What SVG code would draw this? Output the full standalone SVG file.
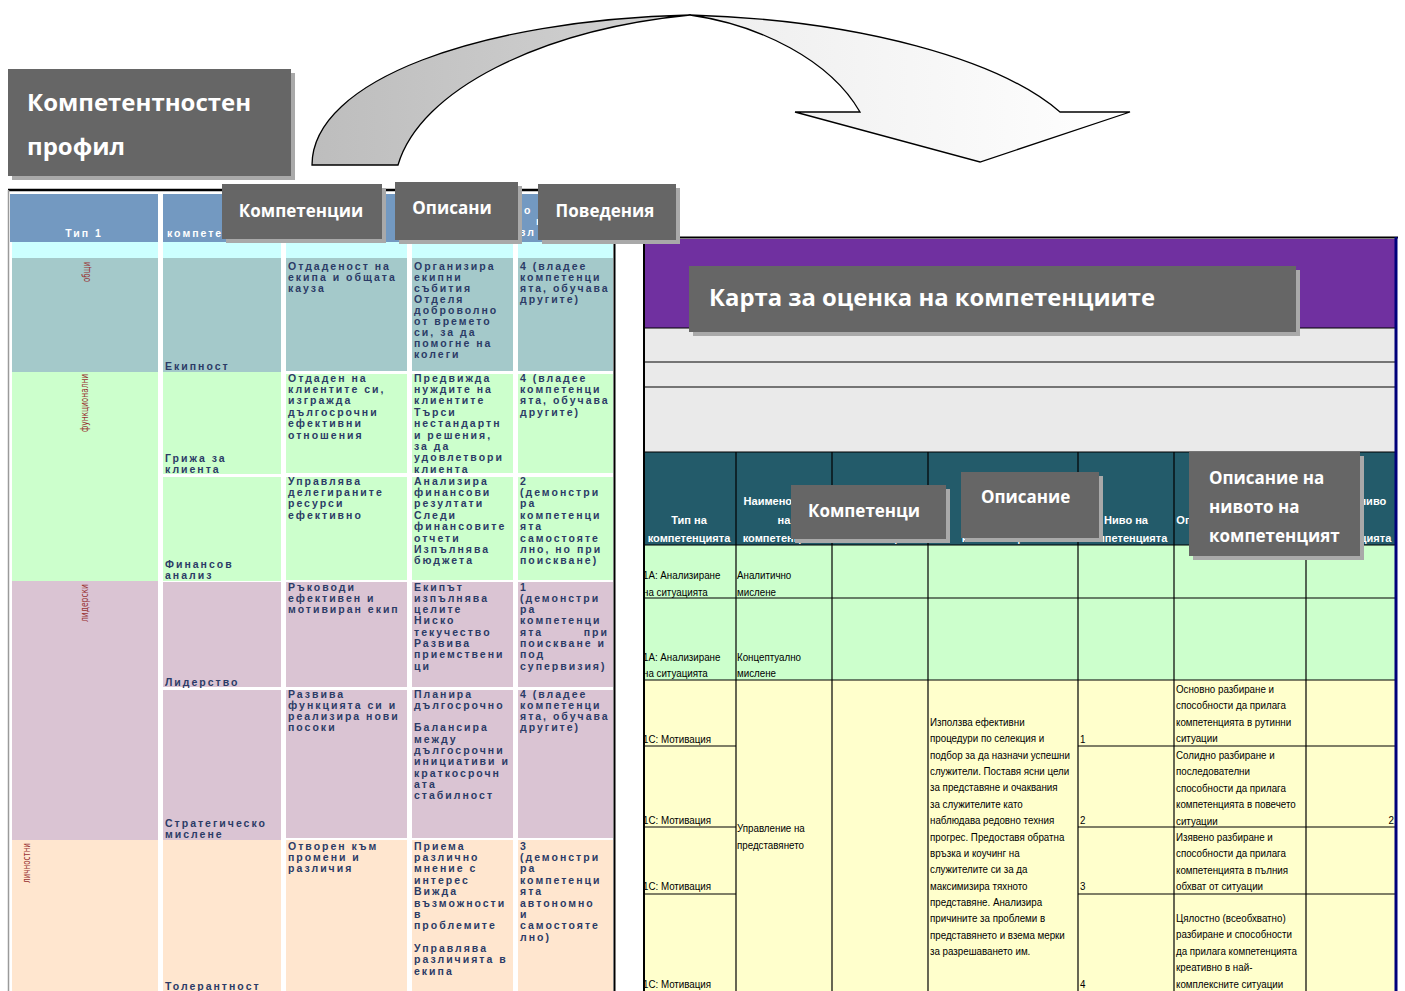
<svg xmlns="http://www.w3.org/2000/svg" width="1405" height="991" viewBox="0 0 1405 991">
<defs>
<linearGradient id="gBack" x1="310" y1="0" x2="700" y2="0" gradientUnits="userSpaceOnUse"><stop offset="0" stop-color="#BDBDBD"/><stop offset="1" stop-color="#D4D4D4"/></linearGradient>
<linearGradient id="gFront" x1="690" y1="0" x2="1130" y2="0" gradientUnits="userSpaceOnUse"><stop offset="0" stop-color="#EDEDED"/><stop offset="1" stop-color="#FFFFFF"/></linearGradient>
</defs>
<style>
.lt{font-family:"Liberation Sans",Arial,sans-serif;font-size:10.5px;font-weight:bold;letter-spacing:2px;fill:#2B3B66}
.lh{font-family:"Liberation Sans",Arial,sans-serif;font-size:10.5px;font-weight:bold;letter-spacing:2px;fill:#FFFFFF}
.vt{font-family:"DejaVu Sans Condensed","Liberation Sans",sans-serif;font-size:11px;fill:#993333}
.box{fill:#666666}
.sh{fill:#A9A9A9}
.co{font-family:"Open Sans","Liberation Sans",sans-serif;font-weight:bold;font-size:17px;fill:#FFFFFF}
.rt{font-family:"Liberation Sans",Arial,sans-serif;font-size:11.5px;fill:#000000}
.rh{font-family:"Liberation Sans",Arial,sans-serif;font-size:11.5px;font-weight:bold;fill:#FFFFFF}
.ln{stroke:#000000;stroke-width:1.2;fill:none}
.c-teal{fill:#A4C9CA}.c-green{fill:#CCFFCC}.c-lav{fill:#DAC4D3}.c-peach{fill:#FFE6CF}.c-head{fill:#7399C1}.c-cyan{fill:#CCFFFF}
</style>
<rect x="0" y="0" width="1405" height="991" fill="#FFFFFF"/>

<g id="connectors">
<path d="M 312 165 C 312 80 480 20 690 15 C 540 30 420 90 398 165 Z" fill="url(#gBack)" stroke="#000" stroke-width="1.3"/>
<path d="M 690 15 C 860 20 1000 60 1060 112 L 1130 112 L 980 162 L 795 112 L 860 112 C 830 60 760 25 690 15 Z" fill="url(#gFront)" stroke="#000" stroke-width="1.3"/>
</g>

<g id="title-profile">
<rect class="sh" x="12" y="73" width="283" height="107"/>
<rect class="box" x="8" y="69" width="283" height="107"/>
<text class="co" style="font-size:24px" x="27" y="111">Компетентностен</text>
<text class="co" style="font-size:24px" x="27" y="155">профил</text>
</g>

<g id="left-table">
<line x1="8" y1="190" x2="645" y2="190" stroke="#000" stroke-width="2.5"/>
<line x1="8.5" y1="190" x2="8.5" y2="991" stroke="#9A9A9A" stroke-width="1.5"/>
<line x1="614.5" y1="191" x2="614.5" y2="991" stroke="#000" stroke-width="2"/>
<rect class="c-head" x="10" y="194" width="148" height="48"/>
<rect class="c-head" x="163" y="194" width="118" height="48"/>
<rect class="c-head" x="286" y="194" width="121" height="48"/>
<rect class="c-head" x="412" y="194" width="101" height="48"/>
<rect class="c-head" x="518" y="194" width="95" height="48"/>
<rect class="c-cyan" x="12" y="242" width="146" height="16"/>
<rect class="c-cyan" x="163" y="242" width="118" height="16"/>
<rect class="c-cyan" x="286" y="242" width="121" height="16"/>
<rect class="c-cyan" x="412" y="242" width="101" height="16"/>
<rect class="c-cyan" x="518" y="242" width="95" height="16"/>
<text class="lh" x="84" y="237" text-anchor="middle">Тип 1</text>
<text class="lh" x="167" y="237">компетенция</text>
<text class="lh" x="300" y="237">описание</text>
<text class="lh"><tspan x="524" y="214">о</tspan><tspan x="536" y="225">н</tspan><tspan x="519" y="236">вл</tspan></text>
<rect class="c-teal" x="12" y="258" width="146" height="114"/>
<rect class="c-green" x="12" y="372" width="146" height="209"/>
<rect class="c-lav" x="12" y="581" width="146" height="259"/>
<rect class="c-peach" x="12" y="840" width="146" height="151"/>
<text class="vt" transform="translate(90,262) rotate(-90)" text-anchor="end" textLength="20" lengthAdjust="spacingAndGlyphs">общи</text>
<text class="vt" transform="translate(88,374) rotate(-90)" text-anchor="end" textLength="58" lengthAdjust="spacingAndGlyphs">функционални</text>
<text class="vt" transform="translate(88,584) rotate(-90)" text-anchor="end" textLength="38" lengthAdjust="spacingAndGlyphs">лидерски</text>
<text class="vt" transform="translate(30,843) rotate(-90)" text-anchor="end" textLength="40" lengthAdjust="spacingAndGlyphs">личностни</text>
<rect class="c-teal" x="163" y="258" width="118" height="114"/>
<rect class="c-teal" x="286" y="258" width="121" height="113"/>
<rect class="c-teal" x="412" y="258" width="101" height="113"/>
<rect class="c-teal" x="518" y="258" width="95" height="113"/>
<rect class="c-green" x="163" y="372" width="118" height="102"/>
<rect class="c-green" x="286" y="374" width="121" height="99"/>
<rect class="c-green" x="412" y="374" width="101" height="99"/>
<rect class="c-green" x="518" y="374" width="95" height="99"/>
<rect class="c-green" x="163" y="477" width="118" height="104"/>
<rect class="c-green" x="286" y="477" width="121" height="103"/>
<rect class="c-green" x="412" y="477" width="101" height="103"/>
<rect class="c-green" x="518" y="477" width="95" height="103"/>
<rect class="c-lav" x="163" y="582" width="118" height="105"/>
<rect class="c-lav" x="286" y="582" width="121" height="105"/>
<rect class="c-lav" x="412" y="582" width="101" height="105"/>
<rect class="c-lav" x="518" y="582" width="95" height="105"/>
<rect class="c-lav" x="163" y="690" width="118" height="150"/>
<rect class="c-lav" x="286" y="690" width="121" height="148"/>
<rect class="c-lav" x="412" y="690" width="101" height="148"/>
<rect class="c-lav" x="518" y="690" width="95" height="148"/>
<rect class="c-peach" x="163" y="840" width="118" height="151"/>
<rect class="c-peach" x="286" y="840" width="121" height="151"/>
<rect class="c-peach" x="412" y="840" width="101" height="151"/>
<rect class="c-peach" x="518" y="840" width="95" height="151"/>
<text class="lt" x="165" y="370">Екипност</text>
<text class="lt"><tspan x="165" y="462">Грижа за</tspan><tspan x="165" y="473">клиента</tspan></text>
<text class="lt"><tspan x="165" y="568">Финансов</tspan><tspan x="165" y="579">анализ</tspan></text>
<text class="lt" x="165" y="686">Лидерство</text>
<text class="lt"><tspan x="165" y="827">Стратегическо</tspan><tspan x="165" y="838">мислене</tspan></text>
<text class="lt" x="165" y="990">Толерантност</text>
<text class="lt"><tspan x="288" y="269.5">Отдаденост на</tspan><tspan x="288" dy="11.1">екипа и общата</tspan><tspan x="288" dy="11.1">кауза</tspan></text>
<text class="lt"><tspan x="288" y="381.5">Отдаден на</tspan><tspan x="288" dy="11.4">клиентите си,</tspan><tspan x="288" dy="11.4">изгражда</tspan><tspan x="288" dy="11.4">дългосрочни</tspan><tspan x="288" dy="11.4">ефективни</tspan><tspan x="288" dy="11.4">отношения</tspan></text>
<text class="lt"><tspan x="288" y="484.5">Управлява</tspan><tspan x="288" dy="11.4">делегираните</tspan><tspan x="288" dy="11.4">ресурси</tspan><tspan x="288" dy="11.4">ефективно</tspan></text>
<text class="lt"><tspan x="288" y="590.5">Ръководи</tspan><tspan x="288" dy="11.3">ефективен и</tspan><tspan x="288" dy="11.3">мотивиран екип</tspan></text>
<text class="lt"><tspan x="288" y="697.5">Развива</tspan><tspan x="288" dy="11.3">функцията си и</tspan><tspan x="288" dy="11.3">реализира нови</tspan><tspan x="288" dy="11.3">посоки</tspan></text>
<text class="lt"><tspan x="288" y="849.5">Отворен към</tspan><tspan x="288" dy="11.4">промени и</tspan><tspan x="288" dy="11.4">различия</tspan></text>
<text class="lt"><tspan x="414" y="269.5">Организира</tspan><tspan x="414" dy="11.1">екипни</tspan><tspan x="414" dy="11.1">събития</tspan><tspan x="414" dy="11.1">Отделя</tspan><tspan x="414" dy="11.1">доброволно</tspan><tspan x="414" dy="11.1">от времето</tspan><tspan x="414" dy="11.1">си, за да</tspan><tspan x="414" dy="11.1">помогне на</tspan><tspan x="414" dy="11.1">колеги</tspan></text>
<text class="lt"><tspan x="414" y="381.5">Предвижда</tspan><tspan x="414" dy="11.4">нуждите на</tspan><tspan x="414" dy="11.4">клиентите</tspan><tspan x="414" dy="11.4">Търси</tspan><tspan x="414" dy="11.4">нестандартн</tspan><tspan x="414" dy="11.4">и решения,</tspan><tspan x="414" dy="11.4">за да</tspan><tspan x="414" dy="11.4">удовлетвори</tspan><tspan x="414" dy="11.4">клиента</tspan></text>
<text class="lt"><tspan x="414" y="484.5">Анализира</tspan><tspan x="414" dy="11.4">финансови</tspan><tspan x="414" dy="11.4">резултати</tspan><tspan x="414" dy="11.4">Следи</tspan><tspan x="414" dy="11.4">финансовите</tspan><tspan x="414" dy="11.4">отчети</tspan><tspan x="414" dy="11.4">Изпълнява</tspan><tspan x="414" dy="11.4">бюджета</tspan></text>
<text class="lt"><tspan x="414" y="590.5">Екипът</tspan><tspan x="414" dy="11.3">изпълнява</tspan><tspan x="414" dy="11.3">целите</tspan><tspan x="414" dy="11.3">Ниско</tspan><tspan x="414" dy="11.3">текучество</tspan><tspan x="414" dy="11.3">Развива</tspan><tspan x="414" dy="11.3">приемствени</tspan><tspan x="414" dy="11.3">ци</tspan></text>
<text class="lt"><tspan x="414" y="697.5">Планира</tspan><tspan x="414" dy="11.3">дългосрочно</tspan><tspan x="414" dy="22.6">Балансира</tspan><tspan x="414" dy="11.3">между</tspan><tspan x="414" dy="11.3">дългосрочни</tspan><tspan x="414" dy="11.3">инициативи и</tspan><tspan x="414" dy="11.3">краткосрочн</tspan><tspan x="414" dy="11.3">ата</tspan><tspan x="414" dy="11.3">стабилност</tspan></text>
<text class="lt"><tspan x="414" y="849.5">Приема</tspan><tspan x="414" dy="11.4">различно</tspan><tspan x="414" dy="11.4">мнение с</tspan><tspan x="414" dy="11.4">интерес</tspan><tspan x="414" dy="11.4">Вижда</tspan><tspan x="414" dy="11.4">възможности</tspan><tspan x="414" dy="11.4">в</tspan><tspan x="414" dy="11.4">проблемите</tspan><tspan x="414" dy="22.4">Управлява</tspan><tspan x="414" dy="11.4">различията в</tspan><tspan x="414" dy="11.4">екипа</tspan></text>
<text class="lt"><tspan x="520" y="269.5">4 (владее</tspan><tspan x="520" dy="11.1">компетенци</tspan><tspan x="520" dy="11.1">ята, обучава</tspan><tspan x="520" dy="11.1">другите)</tspan></text>
<text class="lt"><tspan x="520" y="381.5">4 (владее</tspan><tspan x="520" dy="11.4">компетенци</tspan><tspan x="520" dy="11.4">ята, обучава</tspan><tspan x="520" dy="11.4">другите)</tspan></text>
<text class="lt"><tspan x="520" y="484.5">2</tspan><tspan x="520" dy="11.4">(демонстри</tspan><tspan x="520" dy="11.4">ра</tspan><tspan x="520" dy="11.4">компетенци</tspan><tspan x="520" dy="11.4">ята</tspan><tspan x="520" dy="11.4">самостояте</tspan><tspan x="520" dy="11.4">лно, но при</tspan><tspan x="520" dy="11.4">поискване)</tspan></text>
<text class="lt"><tspan x="520" y="590.5">1</tspan><tspan x="520" dy="11.3">(демонстри</tspan><tspan x="520" dy="11.3">ра</tspan><tspan x="520" dy="11.3">компетенци</tspan><tspan x="520" dy="11.3">ята</tspan><tspan x="520" dy="11.3">поискване и</tspan><tspan x="520" dy="11.3">под</tspan><tspan x="520" dy="11.3">супервизия)</tspan></text>
<text class="lt" x="609" y="635.5" text-anchor="end">при</text>
<text class="lt"><tspan x="520" y="697.5">4 (владее</tspan><tspan x="520" dy="11.3">компетенци</tspan><tspan x="520" dy="11.3">ята, обучава</tspan><tspan x="520" dy="11.3">другите)</tspan></text>
<text class="lt"><tspan x="520" y="849.5">3</tspan><tspan x="520" dy="11.4">(демонстри</tspan><tspan x="520" dy="11.4">ра</tspan><tspan x="520" dy="11.4">компетенци</tspan><tspan x="520" dy="11.4">ята</tspan><tspan x="520" dy="11.4">автономно</tspan><tspan x="520" dy="11.4">и</tspan><tspan x="520" dy="11.4">самостояте</tspan><tspan x="520" dy="11.4">лно)</tspan></text>
</g>

<g id="right-table">
<rect x="644" y="238" width="752" height="753" fill="#FFFFFF"/>
<rect x="645" y="239" width="750" height="89" fill="#7030A0"/>
<rect x="645" y="328" width="750" height="124" fill="#EAEAEA"/>
<rect x="645" y="452" width="750" height="93" fill="#235B6A"/>
<rect x="645" y="545" width="750" height="135" fill="#CCFFCC"/>
<rect x="645" y="680" width="750" height="311" fill="#FFFFCC"/>
<line class="ln" x1="645" y1="328" x2="1395" y2="328"/>
<line class="ln" x1="645" y1="362" x2="1395" y2="362"/>
<line class="ln" x1="645" y1="387" x2="1395" y2="387"/>
<line class="ln" x1="645" y1="452" x2="1395" y2="452"/>
<line class="ln" x1="645" y1="545" x2="1395" y2="545"/>
<line class="ln" x1="645" y1="598" x2="1395" y2="598"/>
<line class="ln" x1="645" y1="680" x2="1395" y2="680"/>
<line class="ln" x1="736" y1="452" x2="736" y2="991"/>
<line class="ln" x1="832" y1="452" x2="832" y2="991"/>
<line class="ln" x1="928" y1="452" x2="928" y2="991"/>
<line class="ln" x1="1078" y1="452" x2="1078" y2="991"/>
<line class="ln" x1="1174" y1="452" x2="1174" y2="991"/>
<line class="ln" x1="1306" y1="452" x2="1306" y2="991"/>
<line class="ln" x1="645" y1="746" x2="736" y2="746"/>
<line class="ln" x1="645" y1="827" x2="736" y2="827"/>
<line class="ln" x1="645" y1="894" x2="736" y2="894"/>
<line class="ln" x1="1078" y1="746" x2="1395" y2="746"/>
<line class="ln" x1="1078" y1="827" x2="1395" y2="827"/>
<line class="ln" x1="1078" y1="894" x2="1395" y2="894"/>
<g transform="translate(689,0) scale(0.96,1)"><text class="rh" text-anchor="middle"><tspan x="0" y="524">Тип на</tspan><tspan x="0" y="542">компетенцията</tspan></text></g>
<g transform="translate(784,0) scale(0.96,1)"><text class="rh" text-anchor="middle"><tspan x="0" y="505">Наименование</tspan><tspan x="0" y="524">на</tspan><tspan x="0" y="542">компетенцията</tspan></text></g>
<g transform="translate(880,0) scale(0.96,1)"><text class="rh" text-anchor="middle" x="0" y="542">компетенцията</text></g>
<g transform="translate(1003,0) scale(0.96,1)"><text class="rh" text-anchor="middle" x="0" y="542">компетенцията</text></g>
<g transform="translate(1126,0) scale(0.96,1)"><text class="rh" text-anchor="middle"><tspan x="0" y="524">Ниво на</tspan><tspan x="0" y="542">компетенцията</tspan></text></g>
<g transform="translate(1240,0) scale(0.96,1)"><text class="rh" text-anchor="middle"><tspan x="0" y="524">Описание на нивото на</tspan><tspan x="0" y="542">компетенцията</tspan></text></g>
<g transform="translate(1350,0) scale(0.96,1)"><text class="rh" text-anchor="middle"><tspan x="0" y="505">Желано ниво</tspan><tspan x="0" y="524">на</tspan><tspan x="0" y="542">компетенцията</tspan></text></g>
<g transform="translate(643,0) scale(0.85,1)">
<text class="rt"><tspan x="0" y="579">1A: Анализиране</tspan><tspan x="0" y="596">на ситуацията</tspan></text>
<text class="rt"><tspan x="0" y="661">1A: Анализиране</tspan><tspan x="0" y="677">на ситуацията</tspan></text>
<text class="rt" x="0" y="743">1C: Мотивация</text>
<text class="rt" x="0" y="824">1C: Мотивация</text>
<text class="rt" x="0" y="890">1C: Мотивация</text>
<text class="rt" x="0" y="988">1C: Мотивация</text>
</g>
<g transform="translate(737,0) scale(0.85,1)">
<text class="rt"><tspan x="0" y="579">Аналитично</tspan><tspan x="0" y="596">мислене</tspan></text>
<text class="rt"><tspan x="0" y="661">Концептуално</tspan><tspan x="0" y="677">мислене</tspan></text>
<text class="rt"><tspan x="0" y="832">Управление на</tspan><tspan x="0" y="849">представянето</tspan></text>
</g>
<g transform="translate(930,0) scale(0.85,1)">
<text class="rt"><tspan x="0" y="726">Използва ефективни</tspan><tspan x="0" dy="16.36">процедури по селекция и</tspan><tspan x="0" dy="16.36">подбор за да назначи успешни</tspan><tspan x="0" dy="16.36">служители. Поставя ясни цели</tspan><tspan x="0" dy="16.36">за представяне и очаквания</tspan><tspan x="0" dy="16.36">за служителите като</tspan><tspan x="0" dy="16.36">наблюдава редовно техния</tspan><tspan x="0" dy="16.36">прогрес. Предоставя обратна</tspan><tspan x="0" dy="16.36">връзка и коучинг на</tspan><tspan x="0" dy="16.36">служителите си за да</tspan><tspan x="0" dy="16.36">максимизира тяхното</tspan><tspan x="0" dy="16.36">представяне. Анализира</tspan><tspan x="0" dy="16.36">причините за проблеми в</tspan><tspan x="0" dy="16.36">представянето и взема мерки</tspan><tspan x="0" dy="16.36">за разрешаването им.</tspan></text>
</g>
<g transform="translate(1080,0) scale(0.85,1)">
<text class="rt" x="0" y="743">1</text>
<text class="rt" x="0" y="824">2</text>
<text class="rt" x="0" y="890">3</text>
<text class="rt" x="0" y="988">4</text>
</g>
<g transform="translate(1176,0) scale(0.85,1)">
<text class="rt"><tspan x="0" y="693">Основно разбиране и</tspan><tspan x="0" dy="16.4">способности да прилага</tspan><tspan x="0" dy="16.4">компетенцията в рутинни</tspan><tspan x="0" dy="16.4">ситуации</tspan></text>
<text class="rt"><tspan x="0" y="759">Солидно разбиране и</tspan><tspan x="0" dy="16.4">последователни</tspan><tspan x="0" dy="16.4">способности да прилага</tspan><tspan x="0" dy="16.4">компетенцията в повечето</tspan><tspan x="0" dy="16.4">ситуации</tspan></text>
<text class="rt"><tspan x="0" y="841">Изявено разбиране и</tspan><tspan x="0" dy="16.4">способности да прилага</tspan><tspan x="0" dy="16.4">компетенцията в пълния</tspan><tspan x="0" dy="16.4">обхват от ситуации</tspan></text>
<text class="rt"><tspan x="0" y="922">Цялостно (всеобхватно)</tspan><tspan x="0" dy="16.4">разбиране и способности</tspan><tspan x="0" dy="16.4">да прилага компетенцията</tspan><tspan x="0" dy="16.4">креативно в най-</tspan><tspan x="0" dy="16.4">комплексните ситуации</tspan></text>
</g>
<g transform="translate(1394,0) scale(0.85,1)"><text class="rt" x="0" y="824" text-anchor="end">2</text></g>
<line x1="643" y1="237.5" x2="1398" y2="237.5" stroke="#000" stroke-width="2"/>
<line x1="644" y1="237" x2="644" y2="991" stroke="#000" stroke-width="2"/>
<line x1="1396" y1="237" x2="1396" y2="991" stroke="#00007A" stroke-width="3"/>
</g>

<g id="callout-kompetencii">
<rect class="sh" x="226" y="188" width="160" height="55"/>
<rect class="box" x="222" y="184" width="160" height="55"/>
<text class="co" x="301" y="217" text-anchor="middle">Компетенции</text>
</g>
<g id="callout-opisani">
<rect class="sh" x="399" y="186" width="123" height="58"/>
<rect class="box" x="395" y="182" width="123" height="58"/>
<text class="co" x="452" y="214" text-anchor="middle">Описани</text>
</g>
<g id="callout-povedenia">
<rect class="sh" x="542" y="188" width="138" height="56"/>
<rect class="box" x="538" y="184" width="138" height="56"/>
<text class="co" x="605" y="217" text-anchor="middle">Поведения</text>
</g>
<g id="callout-karta">
<rect class="sh" x="693" y="270" width="607" height="66"/>
<rect class="box" x="689" y="266" width="607" height="66"/>
<text class="co" style="font-size:24px" x="709" y="306" textLength="446" lengthAdjust="spacingAndGlyphs">Карта за оценка на компетенциите</text>
</g>
<g id="callout-kompetenci">
<rect class="sh" x="795" y="489" width="155" height="54"/>
<rect class="box" x="791" y="485" width="155" height="54"/>
<text class="co" x="864" y="517" text-anchor="middle">Компетенци</text>
</g>
<g id="callout-opisanie">
<rect class="sh" x="965" y="476" width="138" height="66"/>
<rect class="box" x="961" y="472" width="138" height="66"/>
<text class="co" x="981" y="503">Описание</text>
</g>
<g id="callout-opisanie-nivo">
<rect class="sh" x="1193" y="456" width="171" height="104"/>
<rect class="box" x="1189" y="452" width="171" height="104"/>
<text class="co"><tspan x="1209" y="484">Описание на</tspan><tspan x="1209" y="513">нивото на</tspan><tspan x="1209" y="542">компетенцият</tspan></text>
</g>
</svg>
